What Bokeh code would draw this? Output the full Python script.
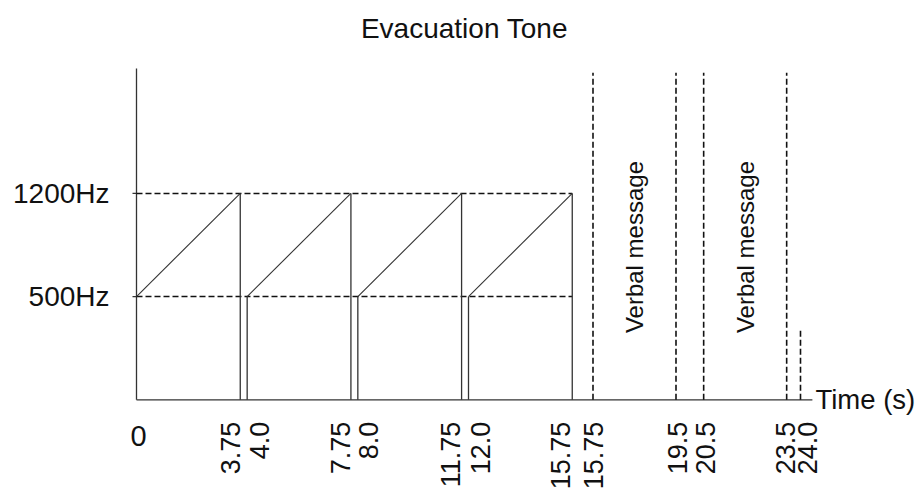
import math
from bokeh.plotting import figure
from bokeh.models import Range1d, ColumnDataSource
from bokeh.core.properties import value
from bokeh.embed import file_html
from bokeh.resources import INLINE

# ---------------- data ----------------
title_text = "Evacuation Tone"
axis_label = "Time (s)"
freq_labels = ["500Hz", "1200Hz"]          # frequency levels (level 1, level 2)
sweep_start = [0.0, 4.0, 8.0, 12.0]        # s, sweep begins at 500Hz
sweep_end = [3.75, 7.75, 11.75, 15.75]     # s, sweep reaches 1200Hz
message_start = [16.5, 20.5]               # s, verbal message boundaries
message_end = [19.5, 23.5]
message_text = ["Verbal message", "Verbal message"]
restart_time = [24.0]                      # s, tone restarts
tick_times = [0, 3.75, 4.0, 7.75, 8.0, 11.75, 12.0, 15.75, 16.5, 19.5, 20.5, 23.5, 24.0]
tick_labels = ["0", "3.75", "4.0", "7.75", "8.0", "11.75", "12.0", "15.75", "15.75",
               "19.5", "20.5", "23.5", "24.0"]

# ---------------- styles ----------------
FONT = value("Liberation Sans")
solid_col = "#333333"
dash_col = "#111111"
text_col = "#111111"
label_nudge = [2, -10, 12, -10, 11, -11, 12, -12, 0, 1, 2, -1, 7]  # px
axis_end = 24.43
axis_top = 3.21
dash_top = 3.17
restart_top = 0.68
msg_level = 1.48

px_per_s = 664 / 24.0
px_per_lvl = 103.2
W, H = 919, 491
x0_px, y0_px = 136, 399.3   # origin in figure pixels

p = figure(width=W, height=H, output_backend="svg", toolbar_location=None,
           x_axis_type=None, y_axis_type=None,
           x_range=Range1d(-x0_px / px_per_s, (W - x0_px) / px_per_s),
           y_range=Range1d(-(H - y0_px) / px_per_lvl, y0_px / px_per_lvl),
           min_border=0, outline_line_color=None)
p.background_fill_color = "white"
p.border_fill_color = "white"

# axes (drawn lines)
p.segment(x0=[0, 0], y0=[0, 0], x1=[0, axis_end], y1=[axis_top, 0],
          line_color=solid_col, line_width=1.3)
p.ray(x=[0, 0], y=[1, 2], length=4, length_units="screen", angle=math.pi,
      line_color=solid_col, line_width=1.2)

# level dashed guides
p.segment(x0=[0, 0], y0=[1, 2], x1=[sweep_end[-1]] * 2, y1=[1, 2],
          line_color=dash_col, line_width=1.5, line_dash="6 3")

# sweeps
p.segment(x0=sweep_start, y0=[1] * 4, x1=sweep_end, y1=[2] * 4,
          line_color=solid_col, line_width=1.1)
p.segment(x0=sweep_end, y0=[2] * 4, x1=sweep_end, y1=[0] * 4,
          line_color=solid_col, line_width=1.3)
p.segment(x0=sweep_start[1:], y0=[0] * 3, x1=sweep_start[1:], y1=[1] * 3,
          line_color=solid_col, line_width=1.3)

# verbal message boundaries
bounds = message_start + message_end
p.segment(x0=bounds, y0=[0] * 4, x1=bounds, y1=[dash_top] * 4,
          line_color=dash_col, line_width=1.6, line_dash="6 3")
p.segment(x0=restart_time, y0=[0], x1=restart_time, y1=[restart_top],
          line_color=dash_col, line_width=1.6, line_dash="6 3")

msg_x = [(a + b) / 2 for a, b in zip(message_start, message_end)]
p.text(x=msg_x, y=[msg_level] * 2, text=message_text, angle=math.pi / 2,
       text_align="center", text_baseline="middle", text_font=FONT,
       text_font_size="24px", text_color=text_col)

# frequency labels
p.text(x=[0, 0], y=[1, 2], text=freq_labels, x_offset=-27,
       text_align="right", text_baseline="middle", text_font=FONT,
       text_font_size="28px", text_color=text_col)

# time tick labels
src0 = ColumnDataSource(dict(x=tick_times[:1], y=[0], t=tick_labels[:1], dx=label_nudge[:1]))
p.text(x="x", y="y", text="t", x_offset="dx", y_offset=36, source=src0,
       text_align="center", text_baseline="middle", text_font=FONT,
       text_font_size="29px", text_color=text_col)
src = ColumnDataSource(dict(x=tick_times[1:], y=[0] * (len(tick_times) - 1),
                            t=tick_labels[1:], dx=label_nudge[1:]))
p.text(x="x", y="y", text="t", x_offset="dx", y_offset=22, source=src, angle=math.pi / 2,
       text_align="right", text_baseline="middle", text_font=FONT,
       text_font_size="27px", text_color=text_col)

# axis label
p.text(x=[axis_end], y=[0], text=[axis_label], x_offset=3,
       text_align="left", text_baseline="middle", text_font=FONT,
       text_font_size="27.5px", text_color=text_col)

# title
p.text(x=[axis_end / 2], y=[axis_top], text=[title_text], x_offset=-10, y_offset=-40,
       text_align="center", text_baseline="middle", text_font=FONT,
       text_font_size="28px", text_color=text_col)

open("out.html", "w").write(file_html(p, INLINE))
